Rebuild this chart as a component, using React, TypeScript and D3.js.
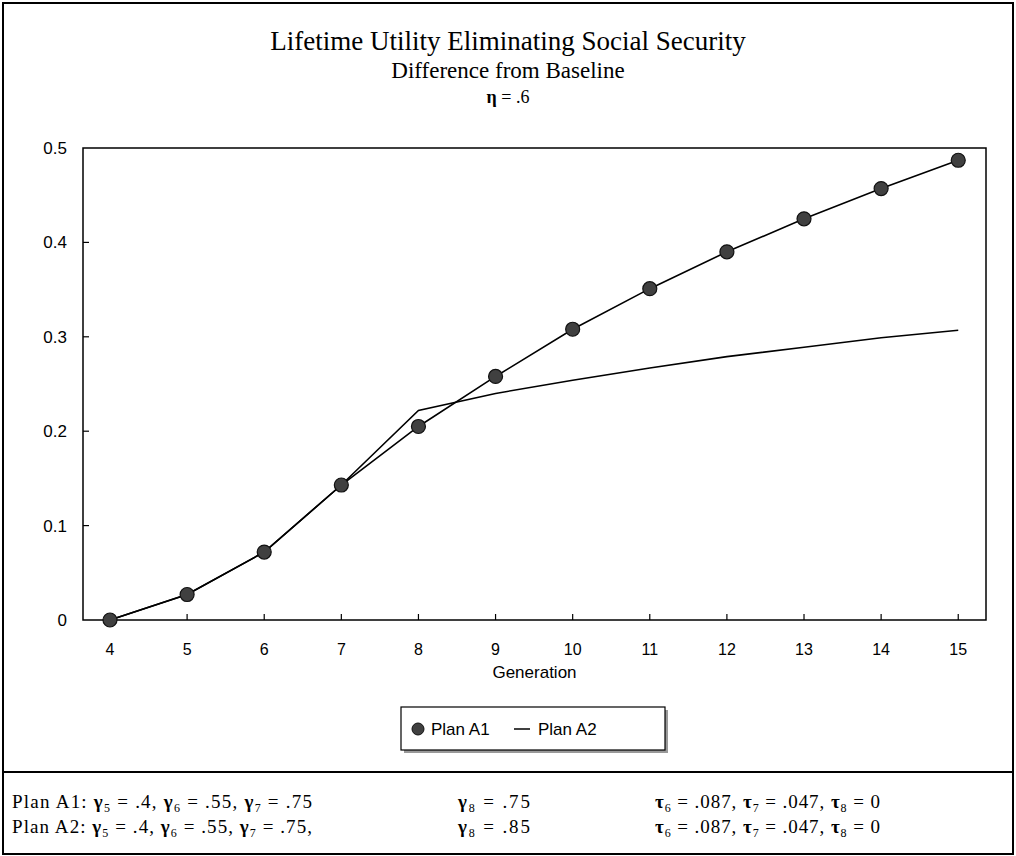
import React from 'react';
import * as d3 from 'd3';

const generations = [4, 5, 6, 7, 8, 9, 10, 11, 12, 13, 14, 15];
const planA1 = [0, 0.027, 0.072, 0.143, 0.205, 0.258, 0.308, 0.351, 0.39, 0.425, 0.457, 0.487];
const planA2 = [0, 0.027, 0.072, 0.143, 0.222, 0.24, 0.254, 0.267, 0.279, 0.289, 0.299, 0.307];
const yTicks = [0, 0.1, 0.2, 0.3, 0.4, 0.5];
const yTickLabels = ['0', '0.1', '0.2', '0.3', '0.4', '0.5'];

const W = 1016;
const H = 856;
const plot = { left: 83, right: 986, top: 148, bottom: 620 };

const sans = 'Arial, "Liberation Sans", sans-serif';
const serif = '"Times New Roman", "Liberation Serif", serif';

// greek letter with subscript, then the rest of the text back on the baseline
const Term = ({ sym, idx, rest }: { sym: string; idx: string; rest: string }) => (
  <>
    <tspan fontWeight="bold">{sym}</tspan>
    <tspan fontSize="12" dy="4">{idx}</tspan>
    <tspan dy="-4">{rest}</tspan>
  </>
);

const App: React.FC = () => {
  const x = d3.scaleLinear().domain([3.65, 15.36]).range([plot.left, plot.right]);
  const y = d3.scaleLinear().domain([0, 0.5]).range([plot.bottom, plot.top]);

  const line = d3.line<number>()
    .x((_, i) => x(generations[i]))
    .y(d => y(d));

  const footerRows = [
    { label: 'Plan A1: ', g7: ' = .75', g8: ' = .75', yy: 808 },
    { label: 'Plan A2: ', g7: ' = .75,', g8: ' = .85', yy: 833 },
  ];

  return (
    <svg width={W} height={H} style={{ position: 'absolute', left: 0, top: 0, background: '#fff' }}>
      {/* outer frame */}
      <rect x={3} y={3} width={1010} height={851} fill="none" stroke="#000" strokeWidth={2} />
      <line x1={3} x2={1013} y1={772} y2={772} stroke="#000" strokeWidth={2} />

      {/* titles */}
      <text x={508} y={50} textAnchor="middle" fontFamily={serif} fontSize={27}>
        Lifetime Utility Eliminating Social Security
      </text>
      <text x={508} y={78} textAnchor="middle" fontFamily={serif} fontSize={23}>
        Difference from Baseline
      </text>
      <text x={508} y={103} textAnchor="middle" fontFamily={serif} fontSize={18}>
        <tspan fontWeight="bold">η</tspan> = .6
      </text>

      {/* plot box */}
      <rect x={plot.left} y={plot.top} width={plot.right - plot.left} height={plot.bottom - plot.top}
        fill="none" stroke="#000" strokeWidth={1.5} />

      {/* y ticks */}
      {yTicks.map((t, i) => (
        <g key={'y' + i}>
          {t > 0 && t < 0.5 && (
            <line x1={plot.left} x2={plot.left + 6} y1={y(t)} y2={y(t)} stroke="#000" strokeWidth={1.2} />
          )}
          <text x={67} y={y(t)} dy="0.35em" textAnchor="end" fontFamily={sans} fontSize={17}>
            {yTickLabels[i]}
          </text>
        </g>
      ))}

      {/* x ticks */}
      {generations.map(g => (
        <g key={'x' + g}>
          <line x1={x(g)} x2={x(g)} y1={plot.bottom} y2={plot.bottom - 6} stroke="#000" strokeWidth={1.2} />
          <text x={x(g)} y={649} dy="0.35em" textAnchor="middle" fontFamily={sans} fontSize={16}>{g}</text>
        </g>
      ))}
      <text x={(plot.left + plot.right) / 2} y={672} dy="0.35em" textAnchor="middle" fontFamily={sans} fontSize={17}>
        Generation
      </text>

      {/* series */}
      <path d={line(planA2) || ''} fill="none" stroke="#000" strokeWidth={1.6} />
      <path d={line(planA1) || ''} fill="none" stroke="#000" strokeWidth={1.6} />
      {planA1.map((v, i) => (
        <circle key={'p' + i} cx={x(generations[i])} cy={y(v)} r={7} fill="#404040" stroke="#111" strokeWidth={1.2} />
      ))}

      {/* legend */}
      <rect x={404} y={710} width={264} height={43} fill="#999" />
      <rect x={401} y={707} width={264} height={43} fill="#fff" stroke="#000" strokeWidth={1.2} />
      <circle cx={418} cy={729} r={6} fill="#404040" stroke="#111" strokeWidth={1} />
      <text x={431} y={729} dy="0.35em" fontFamily={sans} fontSize={17}>Plan A1</text>
      <line x1={514} x2={530} y1={729} y2={729} stroke="#000" strokeWidth={1.5} />
      <text x={538} y={729} dy="0.35em" fontFamily={sans} fontSize={17}>Plan A2</text>

      {/* footer */}
      <g fontFamily={serif} fontSize={19}>
        {footerRows.map(r => (
          <g key={r.label}>
            <text x={12} y={r.yy} textLength={300} lengthAdjust="spacing">
              {r.label}
              <Term sym="γ" idx="5" rest=" = .4, " />
              <Term sym="γ" idx="6" rest=" = .55, " />
              <Term sym="γ" idx="7" rest={r.g7} />
            </text>
            <text x={458} y={r.yy} textLength={72} lengthAdjust="spacing">
              <Term sym="γ" idx="8" rest={r.g8} />
            </text>
            <text x={655} y={r.yy} textLength={225} lengthAdjust="spacing">
              <Term sym="τ" idx="6" rest=" = .087, " />
              <Term sym="τ" idx="7" rest=" = .047, " />
              <Term sym="τ" idx="8" rest=" = 0" />
            </text>
          </g>
        ))}
      </g>
    </svg>
  );
};

export default App;
